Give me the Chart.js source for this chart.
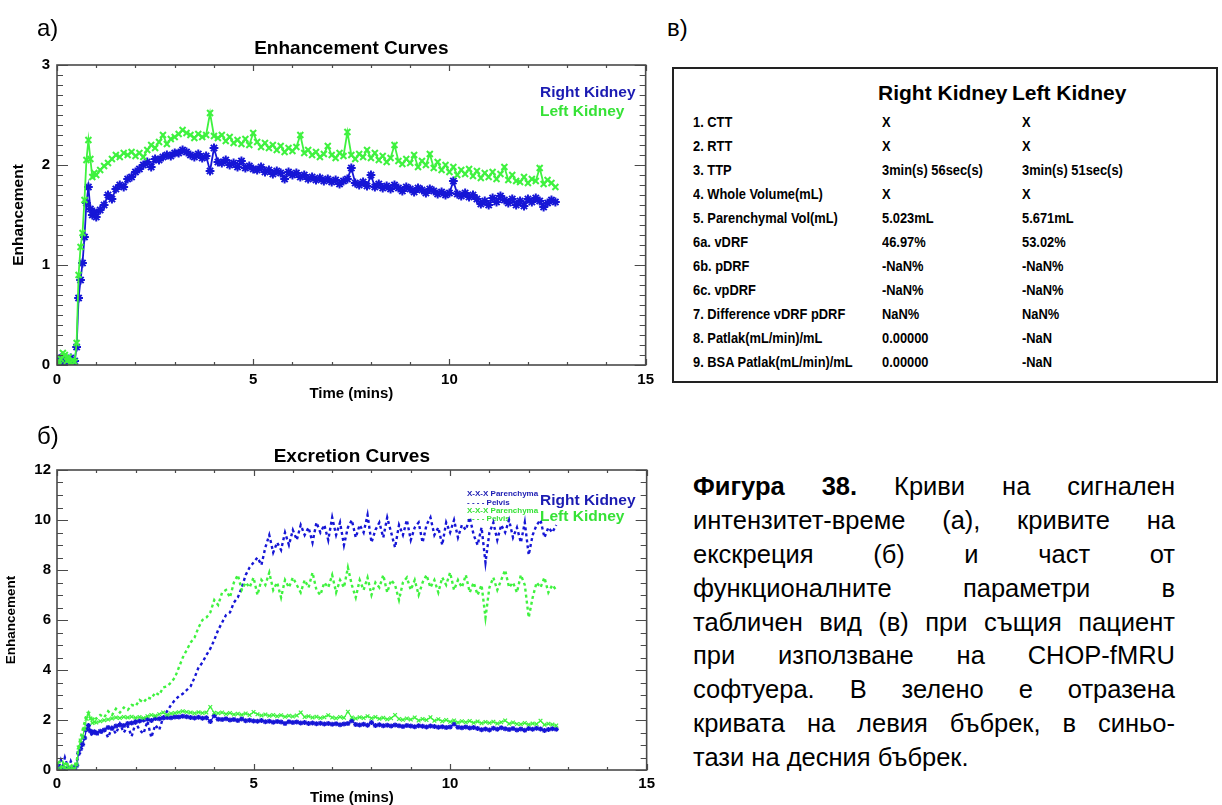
<!DOCTYPE html>
<html>
<head>
<meta charset="utf-8">
<script src="https://cdn.jsdelivr.net/npm/chart.js@4/dist/chart.umd.min.js"></script>
<style>
  html, body { margin: 0; padding: 0; background: #fff; width: 1222px; height: 805px; overflow: hidden;
    font-family: "Liberation Sans", Arial, Helvetica, sans-serif; color: #000; }
  canvas { position: absolute; left: 0; }
  #cA { top: 0; }
  #cB { top: 405px; }
  .panel { position: absolute; font-size: 24px; line-height: 24px; }
  #tbl { position: absolute; left: 672px; top: 67px; width: 546px; height: 316px;
    border: 2px solid #222; box-sizing: border-box; }
  .hdr { position: absolute; white-space: nowrap; font-weight: bold; font-size: 21px; line-height: 21px; }
  .cell { position: absolute; white-space: nowrap; font-weight: bold; font-size: 15.5px; line-height: 15.5px;
    transform: scaleX(0.83); transform-origin: 0 50%; }
  #cap { position: absolute; left: 693px; top: 470px; width: 482px; font-size: 25.5px; }
  #cap div { height: 33.9px; line-height: 33.9px; text-align: justify; text-align-last: justify; }
  #cap div.last { text-align-last: left; }
</style>
</head>
<body>
<canvas id="cA" width="660" height="410"></canvas>
<canvas id="cB" width="660" height="400"></canvas>

<div class="panel" style="left:37px;top:16px;">а)</div>
<div class="panel" style="left:37px;top:424px;">б)</div>
<div class="panel" style="left:667px;top:16px;">в)</div>

<div id="tbl"></div>

<div id="cap">
  <div><b>Фигура 38.</b> Криви на сигнален</div>
  <div>интензитет-време (а), кривите на</div>
  <div>екскреция (б) и част от</div>
  <div>функционалните параметри в</div>
  <div>табличен вид (в) при същия пациент</div>
  <div>при използване на CHOP-fMRU</div>
  <div>софтуера. В зелено е отразена</div>
  <div>кривата на левия бъбрек, в синьо-</div>
  <div class="last">тази на десния бъбрек.</div>
</div>

<script>
// Acquisition times (minutes)
const frameTimes = [
  0, 0.05, 0.1, 0.15, 0.2, 0.25, 0.3, 0.35, 0.4, 0.45,
  0.5, 0.55, 0.6, 0.65, 0.7, 0.75, 0.8, 0.85, 0.9, 0.95, 1.0,
  1.1, 1.2, 1.3, 1.4, 1.5, 1.6, 1.7, 1.8, 1.9, 2.0,
  2.1, 2.2, 2.3, 2.4, 2.5, 2.6, 2.7, 2.8, 2.9, 3.0,
  3.1, 3.2, 3.3, 3.4, 3.5, 3.6, 3.7, 3.8, 3.9, 4.0,
  4.1, 4.2, 4.3, 4.4, 4.5, 4.6, 4.7, 4.8, 4.9, 5.0,
  5.1, 5.2, 5.3, 5.4, 5.5, 5.6, 5.7, 5.8, 5.9, 6.0,
  6.1, 6.2, 6.3, 6.4, 6.5, 6.6, 6.7, 6.8, 6.9, 7.0,
  7.1, 7.2, 7.3, 7.4, 7.5, 7.6, 7.7, 7.8, 7.9, 8.0,
  8.1, 8.2, 8.3, 8.4, 8.5, 8.6, 8.7, 8.8, 8.9, 9.0,
  9.1, 9.2, 9.3, 9.4, 9.5, 9.6, 9.7, 9.8, 9.9, 10.0,
  10.1, 10.2, 10.3, 10.4, 10.5, 10.6, 10.7, 10.8, 10.9, 11.0,
  11.1, 11.2, 11.3, 11.4, 11.5, 11.6, 11.7, 11.8, 11.9, 12.0,
  12.1, 12.2, 12.3, 12.4, 12.5, 12.6, 12.7
];

// Right kidney parenchyma enhancement
const rkParenchyma = [
  0.02, 0.06, 0.00, 0.08, 0.03, 0.05, 0.01, 0.07, 0.02, 0.04,
  0.18, 0.67, 0.85, 1.02, 1.28, 1.62, 1.78, 1.56, 1.50, 1.53, 1.48,
  1.55, 1.60, 1.70, 1.66, 1.76, 1.80, 1.78, 1.86, 1.88, 1.93,
  1.96, 2.00, 2.03, 1.98, 2.06, 2.05, 2.08, 2.10, 2.09, 2.12,
  2.12, 2.15, 2.13, 2.10, 2.08, 2.11, 2.07, 2.09, 1.94, 2.17,
  2.03, 2.02, 2.05, 2.00, 2.02, 1.98, 2.04, 1.97, 1.99, 1.96,
  1.95, 1.98, 1.93, 1.95, 1.91, 1.94, 1.92, 1.86, 1.93, 1.90,
  1.92, 1.88, 1.90, 1.86, 1.88, 1.85, 1.87, 1.84, 1.86, 1.83,
  1.85, 1.81, 1.84, 1.86, 1.97, 1.82, 1.80, 1.83, 1.79, 1.90,
  1.78, 1.81, 1.77, 1.79, 1.76, 1.80, 1.77, 1.74, 1.78, 1.76,
  1.73, 1.77, 1.75, 1.72, 1.76, 1.74, 1.71, 1.73, 1.70, 1.72,
  1.84, 1.71, 1.69, 1.72, 1.68, 1.70, 1.66, 1.61, 1.64, 1.60,
  1.67, 1.63, 1.69, 1.65, 1.62, 1.66, 1.60, 1.64, 1.59, 1.66,
  1.63, 1.67, 1.64, 1.58, 1.62, 1.65, 1.63
];

// Left kidney parenchyma enhancement
const lkParenchyma = [
  0.03, 0.00, 0.06, 0.12, 0.10, 0.04, 0.08, 0.02, 0.05, 0.03,
  0.22, 0.90, 1.18, 1.32, 1.65, 2.05, 2.25, 2.06, 1.88, 1.92, 1.90,
  1.95, 1.99, 2.02, 2.06, 2.10, 2.08, 2.12, 2.10, 2.13, 2.09,
  2.12, 2.08, 2.15, 2.20, 2.17, 2.23, 2.30, 2.21, 2.26, 2.28,
  2.31, 2.35, 2.32, 2.30, 2.27, 2.31, 2.28, 2.30, 2.52, 2.29,
  2.27, 2.30, 2.24, 2.28, 2.22, 2.25, 2.21, 2.26, 2.20, 2.32,
  2.23, 2.18, 2.22, 2.17, 2.20, 2.15, 2.19, 2.13, 2.17, 2.14,
  2.18, 2.30, 2.12, 2.15, 2.10, 2.13, 2.08, 2.11, 2.19, 2.10,
  2.07, 2.12, 2.09, 2.33, 2.10, 2.06, 2.11, 2.08, 2.15, 2.07,
  2.12, 2.05, 2.09, 2.03, 2.07, 2.20, 2.04, 2.01, 2.06, 2.02,
  2.10, 1.98, 2.04, 2.00, 2.11, 1.97, 2.03, 1.95, 2.00, 1.93,
  1.98, 1.90, 1.95, 1.91, 1.96, 1.89, 1.94, 1.87, 1.92, 1.88,
  1.93, 1.86, 1.91, 1.98, 1.85, 1.90, 1.84, 1.83, 1.88, 1.82,
  1.86, 1.84, 1.97, 1.81, 1.85, 1.82, 1.78
];

// Right kidney pelvis excretion
const rkPelvis = [
  0.30, 0.10, 0.40, 0.20, 0.50, 0.25, 0.10, 0.35, 0.15, 0.05,
  0.30, 0.60, 1.00, 1.30, 1.50, 1.70, 1.60, 1.50, 1.35, 1.55, 1.45,
  1.40, 1.65, 1.30, 1.70, 1.45, 1.85, 1.50, 1.75, 1.35, 1.90,
  1.60, 1.45, 1.95, 1.30, 1.80, 1.60, 2.10, 2.35, 2.60, 2.80,
  2.95, 3.05, 3.20, 3.35, 3.70, 4.10, 4.30, 4.60, 4.85, 5.20,
  5.60, 5.90, 6.20, 6.30, 6.70, 6.90, 7.30, 7.80, 8.10, 8.30,
  8.50, 8.20, 8.90, 9.40, 8.70, 9.10, 8.80, 9.50, 9.00, 9.60,
  9.20, 9.80, 9.40, 9.70, 9.10, 9.90, 9.50, 9.80, 9.20, 10.10,
  9.40, 9.90, 9.00, 9.70, 10.00, 9.30, 9.80, 9.50, 10.20, 9.10,
  9.60, 9.90, 9.30, 10.10, 9.50, 8.90, 9.80, 9.40, 10.00, 9.20,
  9.70, 9.90, 9.10, 9.80, 10.10, 9.40, 9.70, 9.00, 9.90, 9.50,
  10.00, 9.30, 9.80, 9.60, 10.10, 9.40, 9.00, 9.70, 8.30, 9.50,
  9.90, 9.20, 9.80, 9.50, 10.00, 9.30, 9.70, 9.10, 9.90, 8.60,
  9.40, 9.80, 10.00, 9.30, 9.70, 9.50, 9.80
];

// Left kidney pelvis excretion
const lkPelvis = [
  0.20, 0.40, 0.10, 0.30, 0.15, 0.35, 0.05, 0.25, 0.10, 0.20,
  0.35, 0.90, 1.30, 1.60, 1.90, 2.20, 2.30, 2.10, 1.95, 2.15, 2.05,
  2.20, 2.10, 2.35, 2.20, 2.45, 2.30, 2.50, 2.40, 2.60, 2.55,
  2.80, 2.70, 2.90, 2.85, 3.10, 3.00, 3.30, 3.35, 3.50, 3.70,
  4.10, 4.50, 4.80, 5.10, 5.30, 5.70, 6.00, 6.10, 6.30, 6.80,
  6.60, 7.10, 7.20, 6.90, 7.50, 7.80, 7.20, 7.50, 7.30, 7.70,
  7.00, 7.60, 7.40, 7.90, 7.20, 7.50, 6.90, 7.60, 7.30, 7.70,
  7.40, 7.10, 7.60, 7.30, 7.90, 7.20, 7.00, 7.50, 7.30, 7.80,
  7.10, 7.60, 7.30, 8.10, 7.40, 6.90, 7.60, 7.20, 7.70, 7.00,
  7.50, 7.30, 7.80, 7.10, 7.60, 7.40, 6.80, 7.50, 7.70, 7.20,
  7.60, 7.00, 7.50, 7.80, 7.30, 7.60, 7.10, 7.70, 7.40, 7.90,
  7.20, 7.60, 7.30, 7.80, 7.10, 7.50, 7.00, 7.40, 6.10, 7.30,
  7.70, 7.20, 7.60, 8.00, 7.30, 7.50, 7.10, 7.80, 7.40, 6.10,
  6.90, 7.50, 7.30, 7.70, 7.10, 7.40, 7.20
];

// Axis tick labels
const timeTicks = [0, 5, 10, 15];
const enhancementTicks = [0, 1, 2, 3];
const excretionTicks = [0, 2, 4, 6, 8, 10, 12];

// Functional parameters table
const paramNames = [
  "1. CTT", "2. RTT", "3. TTP", "4. Whole Volume(mL)", "5. Parenchymal Vol(mL)",
  "6a. vDRF", "6b. pDRF", "6c. vpDRF", "7. Difference vDRF pDRF",
  "8. Patlak(mL/min)/mL", "9. BSA Patlak(mL/min)/mL"
];
const rightKidneyParams = ["X", "X", "3min(s) 56sec(s)", "X", "5.023mL", "46.97%", "-NaN%", "-NaN%", "NaN%", "0.00000", "0.00000"];
const leftKidneyParams  = ["X", "X", "3min(s) 51sec(s)", "X", "5.671mL", "53.02%", "-NaN%", "-NaN%", "NaN%", "-NaN", "-NaN"];

// ---- table ----
(function buildTable() {
  const box = document.getElementById('tbl');
  const ox = 672 + 2, oy = 67 + 2;
  function put(cls, text, x, cy, fs) {
    const d = document.createElement('div');
    d.className = cls;
    d.textContent = text;
    d.style.left = (x - ox) + 'px';
    d.style.top = (cy - oy - fs / 2) + 'px';
    box.appendChild(d);
  }
  put('hdr', 'Right Kidney', 878, 92, 21);
  put('hdr', 'Left Kidney', 1012, 92, 21);
  paramNames.forEach((name, i) => {
    const cy = 122 + 24 * i;
    put('cell', name, 693, cy, 15.5);
    put('cell', rightKidneyParams[i], 882, cy, 15.5);
    put('cell', leftKidneyParams[i], 1022, cy, 15.5);
  });
})();

// ---- charts ----
const BLUE = '#1616d6', GREEN = '#3ff23f';
const BLUE_TXT = '#1b1bb2', GREEN_TXT = '#36e236';
const FONT = '"Liberation Sans", Arial, Helvetica, sans-serif';
Chart.defaults.font.family = FONT;

function pts(vals) { return vals.map((v, i) => ({ x: frameTimes[i], y: v })); }
function fixedTicks(list) { return s => { s.ticks = list.map(v => ({ value: v })); }; }

// Box frame with inward ticks, titles and legend texts
const decor = {
  id: 'decor',
  beforeDatasetsDraw(chart, args, o) {
    const ctx = chart.ctx;
    ctx.save();
    ctx.textBaseline = 'middle';
    (o.legend || []).forEach(t => {
      ctx.font = t.font; ctx.fillStyle = t.color; ctx.textAlign = 'left';
      ctx.fillText(t.text, t.x, t.y);
    });
    ctx.restore();
  },
  afterDraw(chart, args, o) {
    const { ctx, chartArea: a, scales: { x, y } } = chart;
    ctx.save();
    ctx.strokeStyle = '#4a4a4a';
    ctx.lineWidth = 1.6;
    ctx.strokeRect(a.left, a.top, a.right - a.left, a.bottom - a.top);
    ctx.lineWidth = 1.2;
    ctx.beginPath();
    const nx = Math.round((x.max - x.min) / o.xMinor);
    for (let i = 0; i <= nx; i++) {
      const v = x.min + i * o.xMinor;
      const px = Math.round(x.getPixelForValue(v)) + 0.5;
      const L = (i % o.xPer === 0) ? 6 : 3;
      ctx.moveTo(px, a.top); ctx.lineTo(px, a.top + L);
      ctx.moveTo(px, a.bottom); ctx.lineTo(px, a.bottom - L);
    }
    const ny = Math.round((y.max - y.min) / o.yMinor);
    for (let i = 0; i <= ny; i++) {
      const v = y.min + i * o.yMinor;
      const py = Math.round(y.getPixelForValue(v)) + 0.5;
      const L = (i % o.yPer === 0) ? 11 : 6;
      ctx.moveTo(a.left, py); ctx.lineTo(a.left + L, py);
      ctx.moveTo(a.right, py); ctx.lineTo(a.right - L, py);
    }
    ctx.stroke();

    ctx.fillStyle = '#000';
    ctx.textBaseline = 'middle';
    ctx.textAlign = 'center';
    const cx = (a.left + a.right) / 2;
    ctx.font = 'bold 19px ' + FONT;
    ctx.fillText(o.title, cx, a.top - o.titleGap);
    ctx.font = 'bold 15px ' + FONT;
    ctx.fillText('Time (mins)', cx, a.bottom + o.xTitleGap);
    ctx.save();
    ctx.translate(o.yTitleX, (a.top + a.bottom) / 2);
    ctx.rotate(-Math.PI / 2);
    ctx.font = 'bold ' + o.yTitleSize + 'px ' + FONT;
    ctx.fillText('Enhancement', 0, 0);
    ctx.restore();
    ctx.restore();
  }
};

function baseScales(yMax, yTicks, xPad, yPad, xHeight) {
  const tickFont = { size: 15, weight: 'bold' };
  return {
    x: {
      type: 'linear', min: 0, max: 15,
      afterBuildTicks: fixedTicks(timeTicks),
      afterFit: s => { s.height = xHeight; },
      grid: { display: false, drawTicks: false },
      border: { display: false },
      ticks: { font: tickFont, color: '#000', padding: xPad, maxRotation: 0, autoSkip: false }
    },
    y: {
      type: 'linear', min: 0, max: yMax,
      afterBuildTicks: fixedTicks(yTicks),
      afterFit: s => { s.width = 57; },
      grid: { display: false, drawTicks: false },
      border: { display: false },
      ticks: { font: tickFont, color: '#000', padding: yPad, autoSkip: false }
    }
  };
}

const common = {
  responsive: false, animation: false, devicePixelRatio: 1, events: [],
  layout: { padding: { top: 65, right: 11, left: 0, bottom: 0 } }
};

// Enhancement curves
new Chart(document.getElementById('cA'), {
  type: 'scatter',
  data: {
    datasets: [
      { label: 'Left Kidney', data: pts(lkParenchyma), showLine: true,
        borderColor: GREEN, backgroundColor: GREEN, borderWidth: 1.8,
        pointStyle: 'crossRot', pointRadius: 4.2, pointBorderWidth: 2 },
      { label: 'Right Kidney', data: pts(rkParenchyma), showLine: true,
        borderColor: BLUE, backgroundColor: BLUE, borderWidth: 1.8,
        pointStyle: 'star', pointRadius: 4.4, pointBorderWidth: 2 }
    ]
  },
  options: Object.assign({}, common, {
    scales: baseScales(3, enhancementTicks, 6, 7, 45),
    plugins: {
      legend: { display: false }, tooltip: { enabled: false },
      decor: {
        title: 'Enhancement Curves', titleGap: 16, xTitleGap: 29, yTitleX: 19, yTitleSize: 15.5,
        xMinor: 1, xPer: 5, yMinor: 0.1, yPer: 10,
        legend: [
          { text: 'Right Kidney', x: 540, y: 93, font: 'bold 15.5px ' + FONT, color: BLUE_TXT },
          { text: 'Left Kidney', x: 540, y: 112, font: 'bold 15.5px ' + FONT, color: GREEN_TXT }
        ]
      }
    }
  }),
  plugins: [decor]
});

// Excretion curves
new Chart(document.getElementById('cB'), {
  type: 'scatter',
  data: {
    datasets: [
      { label: 'Left Pelvis', data: pts(lkPelvis), showLine: true,
        borderColor: GREEN, borderWidth: 2.4, borderDash: [3, 3], pointRadius: 0 },
      { label: 'Left Parenchyma', data: pts(lkParenchyma), showLine: true,
        borderColor: GREEN, backgroundColor: GREEN, borderWidth: 1.2,
        pointStyle: 'crossRot', pointRadius: 2.6, pointBorderWidth: 1.3 },
      { label: 'Right Pelvis', data: pts(rkPelvis), showLine: true,
        borderColor: BLUE, borderWidth: 2.4, borderDash: [3, 3], pointRadius: 0 },
      { label: 'Right Parenchyma', data: pts(rkParenchyma), showLine: true,
        borderColor: BLUE, backgroundColor: BLUE, borderWidth: 1.2,
        pointStyle: 'star', pointRadius: 2.6, pointBorderWidth: 1.3 }
    ]
  },
  options: Object.assign({}, common, {
    scales: baseScales(12, excretionTicks, 5, 6, 35),
    plugins: {
      legend: { display: false }, tooltip: { enabled: false },
      decor: {
        title: 'Excretion Curves', titleGap: 13, xTitleGap: 28, yTitleX: 11, yTitleSize: 13.5,
        xMinor: 1, xPer: 5, yMinor: 0.5, yPer: 4,
        legend: [
          { text: 'X-X-X Parenchyma', x: 467, y: 89, font: 'bold 8px ' + FONT, color: BLUE_TXT },
          { text: '- - - - Pelvis', x: 467, y: 98, font: 'bold 8px ' + FONT, color: BLUE_TXT },
          { text: 'X-X-X Parenchyma', x: 467, y: 106, font: 'bold 8px ' + FONT, color: GREEN_TXT },
          { text: '- - - - Pelvis', x: 467, y: 114, font: 'bold 8px ' + FONT, color: GREEN_TXT },
          { text: 'Right Kidney', x: 540, y: 95.7, font: 'bold 15.5px ' + FONT, color: BLUE_TXT },
          { text: 'Left Kidney', x: 540, y: 111.7, font: 'bold 15.5px ' + FONT, color: GREEN_TXT }
        ]
      }
    }
  }),
  plugins: [decor]
});
</script>
</body>
</html>
